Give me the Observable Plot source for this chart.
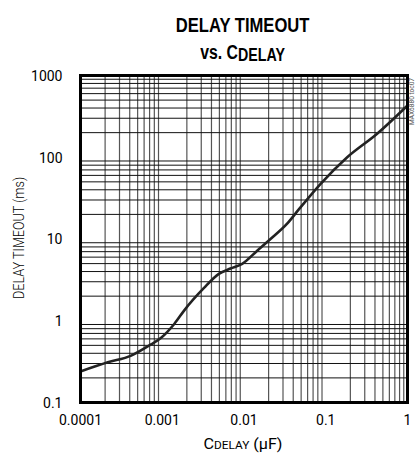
<!DOCTYPE html>
<html>
<head>
<meta charset="utf-8">
<script src="https://cdn.jsdelivr.net/npm/d3@7"></script>
<script src="https://cdn.jsdelivr.net/npm/@observablehq/plot@0.6"></script>
<style>
  html, body { margin: 0; padding: 0; background: #fff; }
  #wrap { position: relative; width: 418px; height: 455px; overflow: hidden; }
  .tl { position: absolute; left: 0; width: 486px; text-align: center; white-space: nowrap;
    font-family: "Liberation Sans", Arial, sans-serif; font-weight: bold; color: #000; }
  .tl span.in { display: inline-block; transform: scaleX(0.79); transform-origin: center; }
  #t1 { top: 14px; font-size: 21px; line-height: 21px; }
  #t2 { top: 42px; font-size: 20px; line-height: 20px; }
  #t2 sub { font-size: 18px; vertical-align: -2px; line-height: 0; }
  #chart { position: absolute; left: 0; top: 66px; }
</style>
</head>
<body>
<div id="wrap">
  <div class="tl" id="t1"><span class="in">DELAY TIMEOUT</span></div>
  <div class="tl" id="t2"><span class="in">vs. C<sub>DELAY</sub></span></div>
  <div id="chart"></div>
</div>
<script>
// Curve (C_DELAY in µF, delay timeout in ms)
const cdelay  = [0.0001, 0.000216, 0.000417, 0.00072, 0.00097, 0.00141, 0.00187, 0.00322, 0.00492, 0.00684, 0.0095, 0.0145, 0.0211, 0.0337, 0.0468, 0.086, 0.183, 0.425, 1];
const timeout = [0.24,   0.31,     0.375,    0.51,    0.62,    0.92,    1.35,    2.5,     3.75,    4.35,    4.97,   7.2,    10,     15.4,   23,     47,    100,   194,   430];

const xTicks = [0.0001, 0.001, 0.01, 0.1, 1];
const xTickLabels = ["0.0001", "0.001", "0.01", "0.1", "1"];
const yTicks = [0.1, 1, 10, 100, 1000];
const yTickLabels = ["0.1", "1", "10", "100", "1000"];

const data = cdelay.map((c, i) => ({c, t: timeout[i]}));
const xLab = xTicks.map((v, i) => ({v, s: xTickLabels[i]}));
const yLab = yTicks.map((v, i) => ({v, s: yTickLabels[i]}));

// log grid positions: 2..9 × each decade
const minor = (lo, hi) => {
  const out = [];
  for (let e = Math.round(Math.log10(lo)); e < Math.round(Math.log10(hi)); e++)
    for (let m = 2; m <= 9; m++) out.push(m * Math.pow(10, e));
  return out;
};
const xGrid = minor(xTicks[0], xTicks[xTicks.length - 1]);
const yGrid = minor(yTicks[0], yTicks[yTicks.length - 1]);

const font = 'Roboto, "Liberation Sans", sans-serif';

const chart = Plot.plot({
  width: 418,
  height: 389,
  marginLeft: 80,
  marginRight: 11,
  marginTop: 9,
  marginBottom: 53,
  style: {fontFamily: font, fontSize: "14px", color: "#000", background: "#fff", overflow: "hidden"},
  x: {type: "log", domain: [xTicks[0], xTicks[xTicks.length - 1]], axis: null},
  y: {type: "log", domain: [yTicks[0], yTicks[yTicks.length - 1]], axis: null},
  marks: [
    Plot.ruleX(xGrid, {x: d => d, stroke: "#555", strokeWidth: 1.2}),
    Plot.ruleY(yGrid, {y: d => d, stroke: "#111", strokeWidth: 1}),
    Plot.line(data, {x: "c", y: "t", stroke: "#222", strokeWidth: 2.6, curve: "monotone-x"}),
    Plot.frame({stroke: "#000", strokeWidth: 3}),
    Plot.text(xLab, {x: "v", text: "s", frameAnchor: "bottom", dy: 22, fontSize: 14, fill: "#000"}),
    Plot.text(yLab, {y: "v", text: "s", frameAnchor: "left", textAnchor: "end", dx: -18, dy: 1, fontSize: 14, fill: "#000"})
  ]
});
document.getElementById("chart").appendChild(chart);

// Axis titles and side note as real text
const svg = d3.select(chart);
const xt = svg.append("text")
  .attr("x", 243).attr("y", 383)
  .attr("text-anchor", "middle")
  .attr("textLength", 79).attr("lengthAdjust", "spacingAndGlyphs")
  .style("font-family", font).style("font-size", "15px").attr("fill", "#000");
xt.append("tspan").text("C");
xt.append("tspan").attr("font-size", "11px").text("DELAY");
xt.append("tspan").text(" (µF)");

svg.append("text")
  .attr("transform", "translate(24,172) rotate(-90)")
  .attr("text-anchor", "middle")
  .attr("textLength", 122).attr("lengthAdjust", "spacingAndGlyphs")
  .style("font-family", font).style("font-size", "14px").style("font-weight", "300").attr("fill", "#000")
  .text("DELAY TIMEOUT (ms)");

svg.append("text")
  .attr("transform", "translate(414,12) rotate(-90)")
  .attr("text-anchor", "end")
  .attr("textLength", 47).attr("lengthAdjust", "spacingAndGlyphs")
  .style("font-family", font).style("font-size", "8px").attr("fill", "#555")
  .text("MAX6880 toc07");
</script>
</body>
</html>
